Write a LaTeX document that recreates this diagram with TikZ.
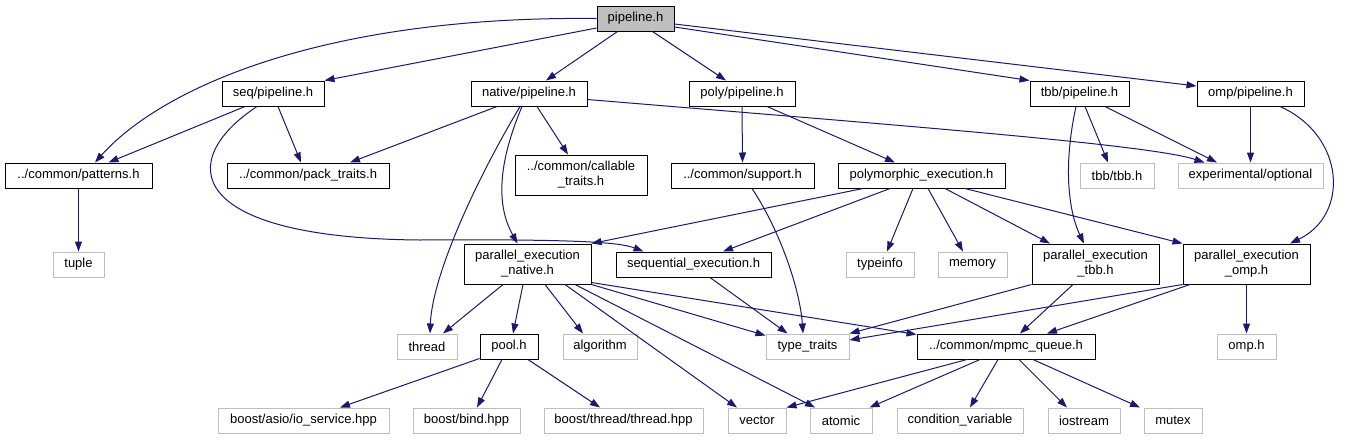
\documentclass[tikz,border=0pt]{standalone}
\usepackage{fontspec}
\setmainfont{Liberation Sans}
\usetikzlibrary{arrows.meta}
\definecolor{edgeblue}{RGB}{25,25,112}
\definecolor{grayline}{RGB}{191,191,191}
\tikzset{
  box/.style={draw=black, line width=1pt, fill=white, inner sep=0pt, minimum height=25pt,
    font=\fontsize{13}{15}\selectfont, align=center, text=black},
  extbox/.style={box, draw=grayline},
  rootbox/.style={box, fill=grayline},
  tall/.style={minimum height=40pt},
  dep/.style={draw=edgeblue, line width=1pt, -{Triangle[length=10pt,width=7pt]}},
}
\begin{document}
\begin{tikzpicture}[x=1pt,y=-1pt]
\useasboundingbox[fill=white] (0,0) rectangle (1348,440);
% row 0
\node[rootbox, minimum width=77pt] (pipe) at (635.5,18.5) {pipeline.h};
% row 1
\node[box, minimum width=102pt] (seq) at (273,93.5) {seq/pipeline.h};
\node[box, minimum width=116pt] (nat) at (529,93.5) {native/pipeline.h};
\node[box, minimum width=106pt] (poly) at (742,93.5) {poly/pipeline.h};
\node[box, minimum width=99pt] (tbb) at (1079.5,93.5) {tbb/pipeline.h};
\node[box, minimum width=107pt] (omp) at (1250.5,93.5) {omp/pipeline.h};
% row 2
\node[box, minimum width=147pt] (pat) at (78.5,175.5) {../common/patterns.h};
\node[box, minimum width=162pt] (pack) at (308,175.5) {../common/pack\_traits.h};
\node[box, tall, minimum width=132pt] (call) at (581,175) {../common/callable\\\_traits.h};
\node[box, minimum width=143pt] (sup) at (742.5,175.5) {../common/support.h};
\node[box, minimum width=167pt] (pexec) at (921.5,175.5) {polymorphic\_execution.h};
\node[extbox, minimum width=74pt] (tbbh) at (1117,175.5) {tbb/tbb.h};
\node[extbox, minimum width=145pt] (opt) at (1250.5,175.5) {experimental/optional};
% row 3
\node[extbox, minimum width=51pt] (tuple) at (78.5,264.5) {tuple};
\node[box, tall, minimum width=127pt] (pen) at (527.5,264) {parallel\_execution\\\_native.h};
\node[box, minimum width=155pt] (sexe) at (693.5,264.5) {sequential\_execution.h};
\node[extbox, minimum width=68pt] (tinfo) at (880,264.5) {typeinfo};
\node[extbox, minimum width=69pt] (mem) at (972.5,264.5) {memory};
\node[box, tall, minimum width=127pt] (pet) at (1095.5,264) {parallel\_execution\\\_tbb.h};
\node[box, tall, minimum width=127pt] (peo) at (1246.5,264) {parallel\_execution\\\_omp.h};
% row 4
\node[extbox, minimum width=60pt] (thr) at (427,346.5) {thread};
\node[box, minimum width=58pt] (pool) at (509,346.5) {pool.h};
\node[extbox, minimum width=74pt] (alg) at (600,346.5) {algorithm};
\node[extbox, minimum width=83pt] (tt) at (807.5,346.5) {type\_traits};
\node[box, minimum width=178pt] (mpmc) at (1006,346.5) {../common/mpmc\_queue.h};
\node[extbox, minimum width=59pt] (omph) at (1246.5,346.5) {omp.h};
% row 5
\node[extbox, minimum width=171pt] (asio) at (303.5,420.5) {boost/asio/io\_service.hpp};
\node[extbox, minimum width=107pt] (bind) at (466.5,420.5) {boost/bind.hpp};
\node[extbox, minimum width=159pt] (bthr) at (623.5,420.5) {boost/thread/thread.hpp};
\node[extbox, minimum width=58pt] (vec) at (757,420.5) {vector};
\node[extbox, minimum width=62pt] (atom) at (841,420.5) {atomic};
\node[extbox, minimum width=126pt] (cv) at (960,420.5) {condition\_variable};
\node[extbox, minimum width=72pt] (ios) at (1084,420.5) {iostream};
\node[extbox, minimum width=58pt] (mut) at (1173,420.5) {mutex};
% edges from pipeline.h
\draw[dep] (pipe.west) .. controls +(-277,-3) and +(65,-73) .. ([xshift=16.5pt]pat.north);
\draw[dep] ([yshift=-9.5pt]pipe.west) -- (seq.north east);
\draw[dep] ([xshift=-18pt]pipe.south) -- ([xshift=17pt]nat.north);
\draw[dep] ([xshift=17pt]pipe.south) -- ([xshift=-16pt]poly.north);
\draw[dep] ([yshift=-8.5pt]pipe.east) -- (tbb.north west);
\draw[dep] ([yshift=-5.5pt]pipe.east) -- ([yshift=7.5pt]omp.west);
% seq
\draw[dep] ([xshift=-28pt]seq.south) -- ([xshift=30pt]pat.north);
\draw[dep] ([xshift=5pt]seq.south) -- ([xshift=-7pt]pack.north);
\draw[dep] ([xshift=-16pt]seq.south) .. controls +(-82,54) and +(-235,-2) .. (420,240)
  .. controls +(160,-1) and +(-23,-9) .. ([xshift=-50pt]sexe.north);
% native
\draw[dep] ([xshift=-32pt]nat.south) -- ([xshift=42pt]pack.north);
\draw[dep] ([xshift=8pt]nat.south) -- ([xshift=-13pt]call.north);
\draw[dep] ([yshift=-6pt]nat.east) .. controls +(313,26) and +(-55,-18) .. ([xshift=27pt]opt.north west);
\draw[dep] ([xshift=-9pt]nat.south) .. controls +(-50,84) and +(2,-54) .. ([xshift=3pt]thr.north);
\draw[dep] ([xshift=-7pt]nat.south) .. controls +(-27,64) and +(-19,-34) .. ([xshift=-10pt]pen.north);
% poly
\draw[dep] (poly.south) -- (sup.north);
\draw[dep] ([xshift=25pt]poly.south) -- ([xshift=-26.5pt]pexec.north);
% tbb
\draw[dep] ([xshift=5.5pt]tbb.south) -- ([xshift=-9pt]tbbh.north);
\draw[dep] ([xshift=25.5pt]tbb.south) -- ([xshift=-33.5pt]opt.north);
\draw[dep] ([xshift=-3.5pt]tbb.south) .. controls +(-14,64) and +(-14,-29) .. ([xshift=-11.5pt]pet.north);
% omp
\draw[dep] (omp.south) -- (opt.north);
\draw[dep] ([xshift=29.5pt]omp.south) .. controls +(65,29) and +(60,-29) .. ([xshift=43.5pt]peo.north);
% row 2 sources
\draw[dep] (pat.south) -- (tuple.north);
\draw[dep] ([xshift=9.5pt]sup.south) .. controls +(28,42) and +(-3,-44) .. ([xshift=-4.5pt]tt.north);
\draw[dep] ([xshift=-58.5pt]pexec.south) -- (pen.north east);
\draw[dep] ([xshift=-31.5pt]pexec.south) -- ([xshift=29.5pt]sexe.north);
\draw[dep] ([xshift=-8.5pt]pexec.south) -- ([xshift=7pt]tinfo.north);
\draw[dep] ([xshift=6.5pt]pexec.south) -- ([xshift=-9.5pt]mem.north);
\draw[dep] ([xshift=23.5pt]pexec.south) -- ([xshift=-45.5pt]pet.north);
\draw[dep] ([xshift=43.5pt]pexec.south) -- (peo.north west);
% row 3 sources
\draw[dep] ([xshift=-24.5pt]pen.south) -- ([xshift=16pt]thr.north);
\draw[dep] ([xshift=-4.5pt]pen.south) -- ([xshift=4pt]pool.north);
\draw[dep] ([xshift=17.5pt]pen.south) -- ([xshift=-17pt]alg.north);
\draw[dep] (pen.south east) -- ([yshift=-2pt]tt.north west);
\draw[dep] ([yshift=2pt]pen.south east) -- ([yshift=-1pt]mpmc.north west);
\draw[dep] ([xshift=37.5pt]pen.south) -- ([xshift=-20pt]vec.north);
\draw[dep] ([xshift=47.5pt]pen.south) -- ([xshift=-26pt]atom.north);
\draw[dep] ([xshift=16.5pt]sexe.south) -- ([xshift=-20pt]tt.north);
\draw[dep] (pet.south west) -- ([yshift=13pt]tt.east);
\draw[dep] ([xshift=-22.5pt]pet.south) -- ([xshift=14pt]mpmc.north);
\draw[dep] (peo.south west) -- ([yshift=6.5pt]tt.east);
\draw[dep] ([xshift=-56.5pt]peo.south) -- ([xshift=41pt]mpmc.north);
\draw[dep] (peo.south) -- (omph.north);
% row 4 sources
\draw[dep] ([yshift=1pt]pool.south west) -- ([xshift=36.5pt]asio.north);
\draw[dep] ([xshift=-7pt]pool.south) -- ([xshift=10.5pt]bind.north);
\draw[dep] ([xshift=19pt]pool.south) -- ([xshift=-23.5pt]bthr.north);
\draw[dep] ([xshift=-39pt]mpmc.south) -- (vec.north east);
\draw[dep] ([xshift=-26pt]mpmc.south) -- ([xshift=-3pt]atom.north east);
\draw[dep] ([xshift=-8pt]mpmc.south) -- ([xshift=10pt]cv.north);
\draw[dep] ([xshift=13pt]mpmc.south) -- ([xshift=-17pt]ios.north);
\draw[dep] ([xshift=27pt]mpmc.south) -- ([xshift=-33pt]mut.north);
\end{tikzpicture}
\end{document}
